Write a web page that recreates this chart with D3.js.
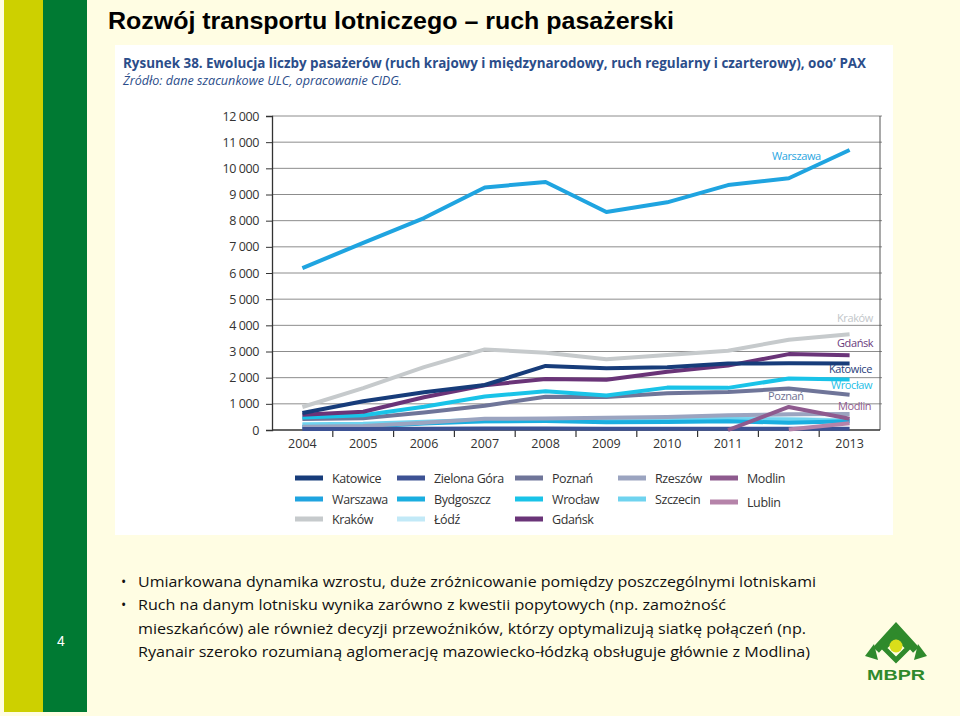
<!DOCTYPE html>
<html><head><meta charset="utf-8">
<script src="https://cdn.jsdelivr.net/npm/d3@7/dist/d3.min.js"></script>
<style>html,body{margin:0;padding:0;background:#fffde3;}svg{display:block;}</style>
</head><body>
<svg id="c" width="960" height="716"></svg>
<script>
const years = [2004,2005,2006,2007,2008,2009,2010,2011,2012,2013];
const katowice   = [650,1100,1440,1720,2450,2360,2400,2540,2550,2540];
const zielonaGora= [40,40,50,60,60,50,50,50,50,50];
const poznan     = [420,450,670,930,1270,1260,1400,1450,1590,1350];
const rzeszow    = [120,150,280,430,440,470,500,560,600,610];
const modlin     = [null,null,null,null,null,null,null,0,880,430];
const warszawa   = [6190,7150,8100,9270,9480,8330,8700,9360,9620,10700];
const bydgoszcz  = [110,120,250,330,340,300,310,330,280,330];
const wroclaw    = [480,560,890,1280,1480,1320,1620,1610,1970,1930];
const szczecin   = [220,240,320,390,380,400,420,420,400,350];
const lublin     = [null,null,null,null,null,null,null,null,20,260];
const krakow     = [880,1600,2400,3080,2950,2700,2870,3030,3450,3660];
const lodz       = [180,200,280,320,350,370,410,460,440,360];
const gdansk     = [580,700,1250,1710,1950,1920,2230,2460,2900,2860];
const yTicks = [0,1000,2000,3000,4000,5000,6000,7000,8000,9000,10000,11000,12000];

const series = [
  {name:"Łódź", v:lodz, c:"#c2e9f7"},
  {name:"Szczecin", v:szczecin, c:"#6fd3ef"},
  {name:"Bydgoszcz", v:bydgoszcz, c:"#1aaee0"},
  {name:"Rzeszów", v:rzeszow, c:"#9ba4c0"},
  {name:"Zielona Góra", v:zielonaGora, c:"#3d5294"},
  {name:"Lublin", v:lublin, c:"#b583a9"},
  {name:"Modlin", v:modlin, c:"#8e5a8e"},
  {name:"Poznań", v:poznan, c:"#6f7599"},
  {name:"Wrocław", v:wroclaw, c:"#19c3e8"},
  {name:"Gdańsk", v:gdansk, c:"#6a3478"},
  {name:"Katowice", v:katowice, c:"#173c7a"},
  {name:"Kraków", v:krakow, c:"#c6cacc"},
  {name:"Warszawa", v:warszawa, c:"#1fa4e0"}
];
const colorOf = n => series.find(s=>s.name===n).c;
const legendCols = [
  ["Katowice","Warszawa","Kraków"],
  ["Zielona Góra","Bydgoszcz","Łódź"],
  ["Poznań","Wrocław","Gdańsk"],
  ["Rzeszów","Szczecin"],
  ["Modlin","Lublin"]
];
const bullets = [
  ["Umiarkowana dynamika wzrostu, duże zróżnicowanie pomiędzy poszczególnymi lotniskami", true, 678],
  ["Ruch na danym lotnisku wynika zarówno z kwestii popytowych (np. zamożność", true, 588],
  ["mieszkańców) ale również decyzji przewoźników, którzy optymalizują siatkę połączeń (np.", false, 668],
  ["Ryanair szeroko rozumianą aglomerację mazowiecko-łódzką obsługuje głównie z Modlina)", false, 672]
];

const svg = d3.select("#c");
svg.append("rect").attr("width",960).attr("height",716).attr("fill","#fffde3");
svg.append("rect").attr("x",4).attr("y",0).attr("width",39).attr("height",712).attr("fill","#cdd000");
svg.append("rect").attr("x",43).attr("y",0).attr("width",44).attr("height",712).attr("fill","#007a33");
svg.append("text").attr("x",57).attr("y",646).attr("fill","#fff").attr("font-family","Liberation Sans, Arial, sans-serif").attr("font-size",14).text("4");

// title
svg.append("text").attr("x",108).attr("y",29).attr("font-family","Liberation Sans, Arial, sans-serif")
  .attr("font-weight","bold").attr("font-size",23).attr("fill","#000")
  .attr("textLength",566).attr("lengthAdjust","spacingAndGlyphs")
  .text("Rozwój transportu lotniczego – ruch pasażerski");

// white panel
svg.append("rect").attr("x",115).attr("y",45).attr("width",778).attr("height",490).attr("fill","#fff");
const cf = "'Liberation Sans Narrow', 'Open Sans', Roboto, sans-serif";
svg.append("text").attr("x",123).attr("y",68).attr("font-family",cf).attr("font-weight","bold")
  .attr("font-size",15).attr("fill","#2b4d8a").attr("textLength",743).attr("lengthAdjust","spacingAndGlyphs")
  .text("Rysunek 38. Ewolucja liczby pasażerów (ruch krajowy i międzynarodowy, ruch regularny i czarterowy), ooo’ PAX");
svg.append("text").attr("x",123).attr("y",85).attr("font-family",cf).attr("font-style","italic")
  .attr("font-size",12).attr("fill","#2b4d8a").attr("textLength",279).attr("lengthAdjust","spacingAndGlyphs")
  .text("Źródło: dane szacunkowe ULC, opracowanie CIDG.");

// scales
const x = d3.scaleBand().domain(years).range([272,880]);
const cx = yr => x(yr) + x.bandwidth()/2;
const y = d3.scaleLinear().domain([0,12000]).range([430,116]);
const fmt = v => d3.format(",")(v).replace(/,/g," ");

// gridlines
svg.append("g").selectAll("line").data(yTicks.filter(t=>t>0)).join("line")
  .attr("x1",272).attr("x2",882).attr("y1",d=>y(d)).attr("y2",d=>y(d))
  .attr("stroke","#8c8c8c").attr("stroke-width",1);
svg.append("line").attr("x1",880).attr("x2",880).attr("y1",y(12000)).attr("y2",y(0)).attr("stroke","#555").attr("stroke-width",1);

// y axis
const ya = svg.append("g").attr("transform","translate(272,0)")
  .call(d3.axisLeft(y).tickValues(yTicks).tickSize(6).tickPadding(7).tickFormat(fmt));
ya.select(".domain").attr("stroke","#333").attr("stroke-width",1.3);
ya.selectAll(".tick line").attr("stroke","#333");
ya.selectAll("text").attr("font-family","'Open Sans', 'Noto Sans', sans-serif").attr("font-size",12.5).attr("fill","#333").attr("letter-spacing","-0.4");

// x axis
const xa = svg.append("g").attr("transform","translate(0,430)")
  .call(d3.axisBottom(x).tickSize(0).tickPadding(9));
xa.select(".domain").remove();
xa.selectAll("text").attr("font-family","'Open Sans', 'Noto Sans', sans-serif").attr("font-size",12.5).attr("fill","#333");
svg.append("line").attr("x1",272).attr("x2",880).attr("y1",430).attr("y2",430).attr("stroke","#333").attr("stroke-width",1.3);
svg.append("g").selectAll("line").data(years.slice(1)).join("line")
  .attr("x1",d=>x(d)).attr("x2",d=>x(d)).attr("y1",430).attr("y2",437).attr("stroke","#333").attr("stroke-width",1.2);

// lines
const line = d3.line().defined(d=>d[1]!=null).x(d=>cx(d[0])).y(d=>y(d[1]));
svg.append("g").selectAll("path").data(series).join("path")
  .attr("d",s=>line(years.map((yr,i)=>[yr,s.v[i]])))
  .attr("fill","none").attr("stroke",s=>s.c).attr("stroke-width",4).attr("stroke-linejoin","round");

// direct labels
const lab = [
  ["Warszawa",772,160,"#2aa6df"],["Kraków",837,322,"#c2c6c9"],["Gdańsk",837,347,"#6a3a7c"],
  ["Katowice",829,373,"#1f3d7a"],["Wrocław",831,389,"#1fc0e6"],["Poznań",768,400,"#707394"],["Modlin",838,410,"#8e5a8e"]
];
svg.append("g").selectAll("text").data(lab).join("text")
  .attr("x",d=>d[1]).attr("y",d=>d[2]).attr("fill",d=>d[3])
  .attr("font-family","'Open Sans', 'Noto Sans', sans-serif").attr("font-size",11).attr("letter-spacing","-0.4")
  .text(d=>d[0]);

// legend
const colX = [295,397,515,618,710];
const rowY = [478,499,519];
const lg = svg.append("g");
legendCols.forEach((col,ci)=>col.forEach((n,ri)=>{
  const yy = rowY[ri] + (n==="Lublin"?3:0);
  lg.append("rect").attr("x",colX[ci]).attr("y",yy-2.5).attr("width",28).attr("height",5).attr("fill",colorOf(n));
  lg.append("text").attr("x",colX[ci]+37).attr("y",yy+4.5).attr("font-family","'Open Sans', 'Noto Sans', sans-serif")
    .attr("font-size",12.5).attr("fill","#333").attr("letter-spacing","-0.4").text(n);
}));

// bullets
const bf = "'Open Sans', 'Noto Sans', sans-serif";
const by = [587,610,634,657];
bullets.forEach((b,i)=>{
  if(b[1]) svg.append("text").attr("x",121).attr("y",by[i]).attr("font-family",bf).attr("font-size",14).attr("fill","#111").text("•");
  svg.append("text").attr("x",138).attr("y",by[i]).attr("font-family",bf).attr("font-size",15).attr("fill","#111")
    .attr("textLength",b[2]).attr("lengthAdjust","spacingAndGlyphs").text(b[0]);
});

// MBPR logo
const lgG = svg.append("g").attr("transform","translate(896,642)");
const gcol = "#2f8a2c";
lgG.append("path").attr("d","M-20,8 L0,-14 L20,8").attr("fill","none").attr("stroke",gcol).attr("stroke-width",8).attr("stroke-linejoin","miter");
lgG.append("path").attr("d","M-22,2 L-31,14 L-18,18 Z").attr("fill",gcol);
lgG.append("path").attr("d","M22,2 L31,14 L18,18 Z").attr("fill",gcol);
lgG.append("path").attr("d","M-12,6 L0,-6 L12,6 L0,18 Z").attr("fill","none").attr("stroke",gcol).attr("stroke-width",5);
lgG.append("circle").attr("cx",0).attr("cy",4).attr("r",6.5).attr("fill","#d9de1a");
svg.append("text").attr("x",896).attr("y",680).attr("text-anchor","middle").attr("font-family","Liberation Sans, Arial, sans-serif")
  .attr("font-weight","bold").attr("font-size",15).attr("fill",gcol).attr("textLength",58).attr("lengthAdjust","spacingAndGlyphs").text("MBPR");
</script>
</body></html>
